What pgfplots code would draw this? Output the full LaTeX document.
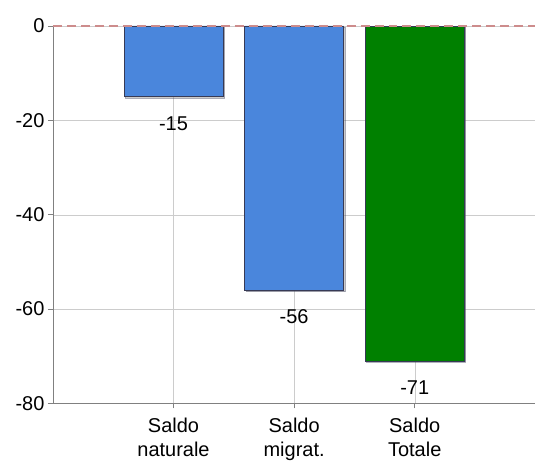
\documentclass[border=0pt]{standalone}
\usepackage{fontspec}
\setmainfont{Liberation Sans}
\usepackage{pgfplots}
\pgfplotsset{compat=1.18}
\usetikzlibrary{shadows}
\definecolor{barblue}{RGB}{74,134,220}
\definecolor{bargreen}{RGB}{0,128,0}
\definecolor{baredge}{RGB}{55,58,85}
\definecolor{zeroline}{RGB}{205,140,140}
\begin{document}
\begin{tikzpicture}
\begin{axis}[name=ax,
  scale only axis, width=483pt, height=378pt,
  xmin=-1, xmax=3, ymin=-80, ymax=0,
  axis x line=bottom, axis y line=left,
  axis line style={-, gray},
  xtick={0,1,2},
  xticklabels={Saldo\\naturale, Saldo\\migrat., Saldo\\Totale},
  xticklabel style={align=center, yshift=-6pt, font=\fontsize{20}{24}\selectfont},
  ytick={0,-20,-40,-60,-80},
  tick align=outside, major tick length=5pt,
  tick style={gray, thick},
  grid=major, grid style={gray!40},
  font=\fontsize{20}{24}\selectfont,
  /pgf/number format/assume math mode=true,
  clip=false,
]
\addplot[ybar, bar width=0.82, bar shift=0pt, fill=barblue, draw=baredge, thick,
  drop shadow={shadow xshift=1.5pt, shadow yshift=-1.5pt, opacity=0.4},
  nodes near coords, every node near coord/.append style={anchor=north, yshift=-16pt}]
  coordinates {(0,-15) (1,-56)};
\addplot[ybar, bar width=0.82, bar shift=0pt, fill=bargreen, draw=baredge, thick,
  drop shadow={shadow xshift=1.5pt, shadow yshift=-1.5pt, opacity=0.4},
  nodes near coords, every node near coord/.append style={anchor=north, yshift=-16pt}]
  coordinates {(2,-71)};
\addplot[sharp plot, zeroline, line width=1.4pt, dash pattern=on 9pt off 5pt] coordinates {(-1,0) (3,0)};
\end{axis}
\path ([xshift=-53pt,yshift=-60pt]ax.south west) rectangle ([yshift=26pt]ax.north east);
\end{tikzpicture}
\end{document}
